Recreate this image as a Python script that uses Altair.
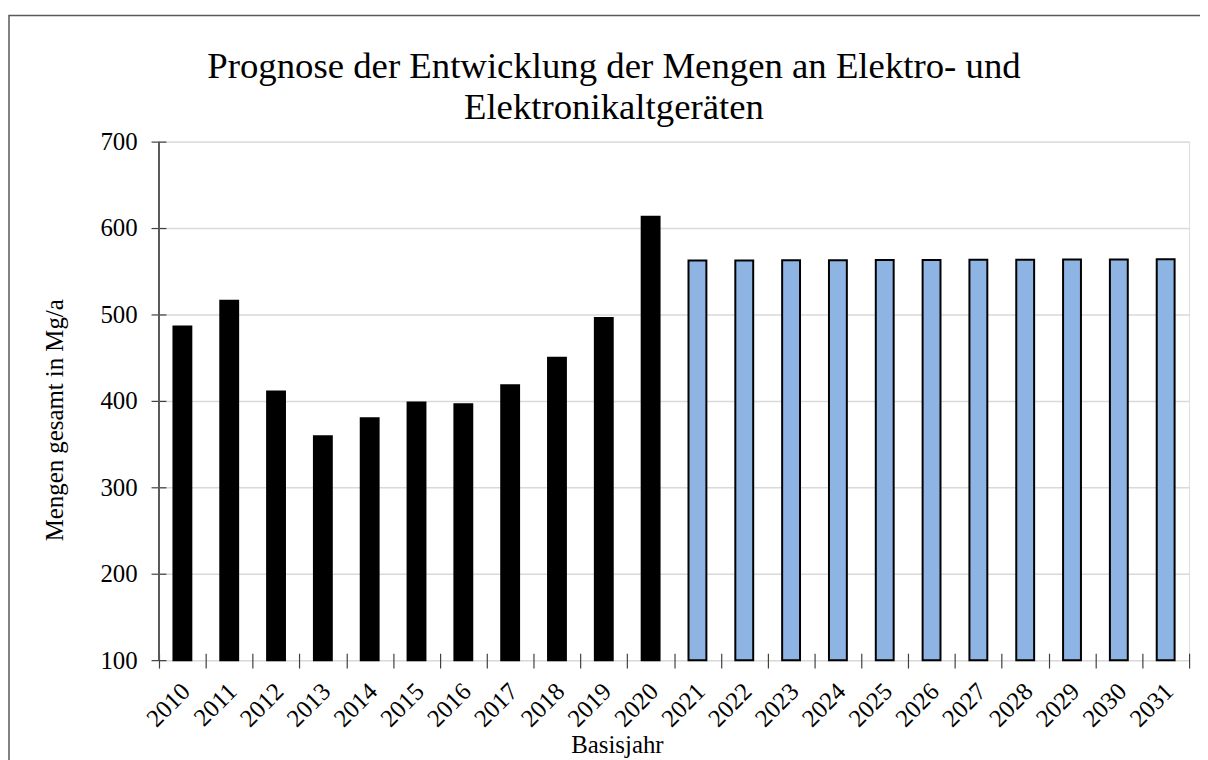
import altair as alt
import pandas as pd

years = ["2010", "2011", "2012", "2013", "2014", "2015", "2016", "2017", "2018", "2019",
         "2020", "2021", "2022", "2023", "2024", "2025", "2026", "2027", "2028", "2029",
         "2030", "2031"]
values = [486, 516, 411, 359, 380, 398, 396, 418, 450, 496,
          613, 562.4, 562.5, 562.6, 562.8, 562.9, 563.0, 563.2, 563.3, 563.5,
          563.6, 563.8]
kinds = ["Ist"] * 11 + ["Prognose"] * 11
y_ticks = [100, 200, 300, 400, 500, 600, 700]
title_lines = ["Prognose der Entwicklung der Mengen an Elektro- und", "Elektronikaltgeräten"]

df = pd.DataFrame({"Jahr": years, "Menge": values, "Art": kinds})

W, H = 1037, 522
FONT = "Liberation Serif"

frame = alt.Chart(alt.Data(values=[{"k": 1}])).mark_rect(
    fillOpacity=0, stroke="#595959", strokeWidth=1.5
).encode(
    x=alt.value(-151), x2=alt.value(1100), y=alt.value(-127), y2=alt.value(700)
)

title = alt.Chart(alt.Data(values=[{"k": 1}])).mark_text(
    text=title_lines, font=FONT, fontSize=37, fontWeight="normal", color="black",
    align="center", baseline="alphabetic", lineHeight=41
).encode(x=alt.value(458), y=alt.value(-64))

bars = alt.Chart(df).mark_bar(width=18, stroke="black", strokeWidth=2).encode(
    x=alt.X("Jahr:N", sort=years,
            scale=alt.Scale(paddingInner=0, paddingOuter=0),
            axis=alt.Axis(title="Basisjahr", titleX=461, titleY=100,
                          titleAlign="center", titleBaseline="alphabetic",
                          labelAngle=-45, labelAlign="right", labelBaseline="middle",
                          labelPadding=19, labelOffset=3, tickBand="extent",
                          tickSize=15, offset=-7, domain=False, grid=False)),
    y=alt.Y("Menge:Q",
            scale=alt.Scale(domain=[100, 700], nice=False, zero=False),
            axis=alt.Axis(values=y_ticks, title="Mengen gesamt in Mg/a",
                          titleX=-112, titleY=280, titleAngle=-90,
                          titleAlign="center", titleBaseline="middle",
                          labelPadding=14, tickSize=15, offset=-7,
                          domain=False, grid=True, gridColor="#d9d9d9", gridWidth=1.5)),
    y2=alt.datum(100),
    color=alt.Color("Art:N", scale=alt.Scale(domain=["Ist", "Prognose"],
                                              range=["#000000", "#8db4e2"]),
                    legend=None),
)

left_rule = alt.Chart(alt.Data(values=[{"k": 1}])).mark_rule(
    color="#595959", strokeWidth=2
).encode(x=alt.value(0), y=alt.value(0), y2=alt.value(H))

chart = alt.layer(frame, title, bars, left_rule).properties(
    width=W, height=H,
    padding={"left": 152, "top": 132, "right": 11, "bottom": 98},
    autosize=alt.AutoSizeParams(type="none"),
).configure_view(
    stroke="#8c8c8c", strokeWidth=2
).configure_text(
    font=FONT
).configure(
    font=FONT
).configure_axis(
    labelFont=FONT, labelFontSize=25, labelColor="black",
    titleFont=FONT, titleFontSize=25, titleFontWeight="normal", titleColor="black",
    tickColor="#404040", tickWidth=1.2,
)

chart.save("out.html", embed_options={"renderer": "svg", "actions": False})
